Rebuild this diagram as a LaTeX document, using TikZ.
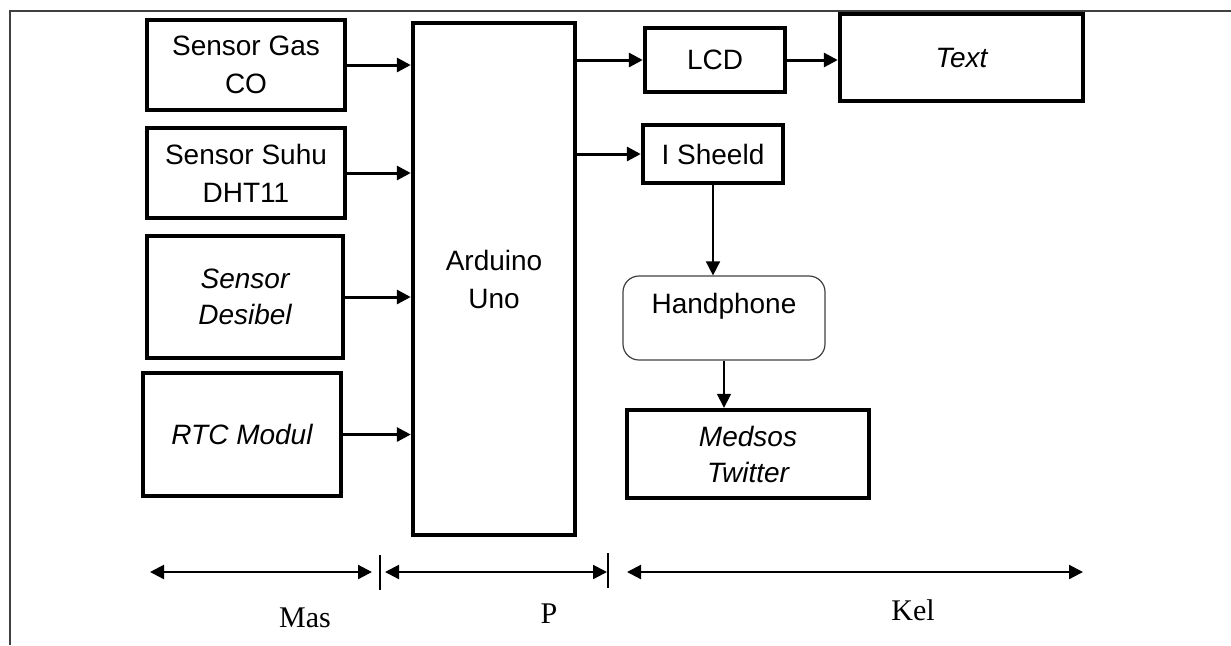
\documentclass[tikz,border=0pt]{standalone}
\usepackage{fontspec}
\setmainfont{Liberation Serif}
\setsansfont{Liberation Sans}
\usetikzlibrary{arrows.meta,positioning}

\begin{document}
\begin{tikzpicture}[x=0.5pt,y=-0.5pt,>={Triangle[length=7pt,width=7pt]},
  blok/.style={draw,line width=2.2pt,align=center,inner sep=0pt,
    font=\sffamily\fontsize{14}{19}\selectfont},
  ital/.style={font=\sffamily\itshape\fontsize{14}{18}\selectfont},
  flow/.style={->,line width=1.5pt},
  link/.style={->,line width=.8pt},
  dim/.style={<->,line width=1.1pt},
  tick/.style={line width=.7pt},
  lbl/.style={font=\fontsize{15}{18}\selectfont}]
\useasboundingbox (0,0) rectangle (1231,645);
\draw[line width=1pt,black!75] (1231,11) -| (10,645);
\node[blok,minimum width=99pt,minimum height=45pt] (gas) at (246,65)
  {Sensor Gas\\CO};
\node[blok,minimum width=99pt,minimum height=45pt] (suhu) at (246,173)
  {Sensor Suhu\\DHT11};
\node[blok,ital,minimum width=98pt,minimum height=61pt] (desibel) at (245,297)
  {Sensor\\Desibel};
\node[blok,ital,minimum width=99pt,minimum height=61.5pt] (rtc) at (242,434.5)
  {RTC Modul};
\node[blok,minimum width=81pt,minimum height=256pt] (arduino) at (494,279)
  {Arduino\\Uno};
\node[blok,minimum width=70pt,minimum height=32pt] (lcd) at (715,60) {LCD};
\node[blok,ital,minimum width=121.5pt,minimum height=43.5pt] (text) at (961.5,57.5)
  {Text};
\node[blok,minimum width=70pt,minimum height=29pt] (sheeld) at (713,154)
  {I Sheeld};
\node[blok,draw=black!75,line width=.6pt,rounded corners=8pt,
  minimum width=101pt,minimum height=42pt,text depth=15pt] (hp) at (724,318)
  {Handphone};
\node[blok,ital,minimum width=121pt,minimum height=44pt] (medsos) at (748,454)
  {Medsos\\Twitter};
\draw[flow] (gas.east) -- (gas.east -| arduino.west);
\draw[flow] (suhu.east) -- (suhu.east -| arduino.west);
\draw[flow] (desibel.east) -- (desibel.east -| arduino.west);
\draw[flow] (rtc.east) -- (rtc.east -| arduino.west);
\draw[flow] (lcd.west -| arduino.east) -- (lcd.west);
\draw[flow] (sheeld.west -| arduino.east) -- (sheeld.west);
\draw[flow] (lcd.east) -- (text.west |- lcd.east);
\draw[link] (sheeld.south) -- (hp.north -| sheeld.south);
\draw[link] (hp.south) -- (medsos.north -| hp.south);
\coordinate (masL) at (150,572);
\coordinate (masR) at (372,572);
\coordinate (pL) at (385,572);
\coordinate (pR) at (607,572);
\coordinate (kelL) at (627,572);
\coordinate (kelR) at (1083,572);
\draw[dim] (masL) -- (masR);
\draw[dim] (pL) -- (pR);
\draw[dim] (kelL) -- (kelR);
\draw[tick] (380,555) -- (380,590);
\draw[tick] (608,553) -- (608,588);
\node[lbl] (mas) at (305,618) {Mas};
\node[lbl] (p) at (549,614) {P};
\node[lbl] (kel) at (913,610) {Kel};
\end{tikzpicture}
\end{document}
